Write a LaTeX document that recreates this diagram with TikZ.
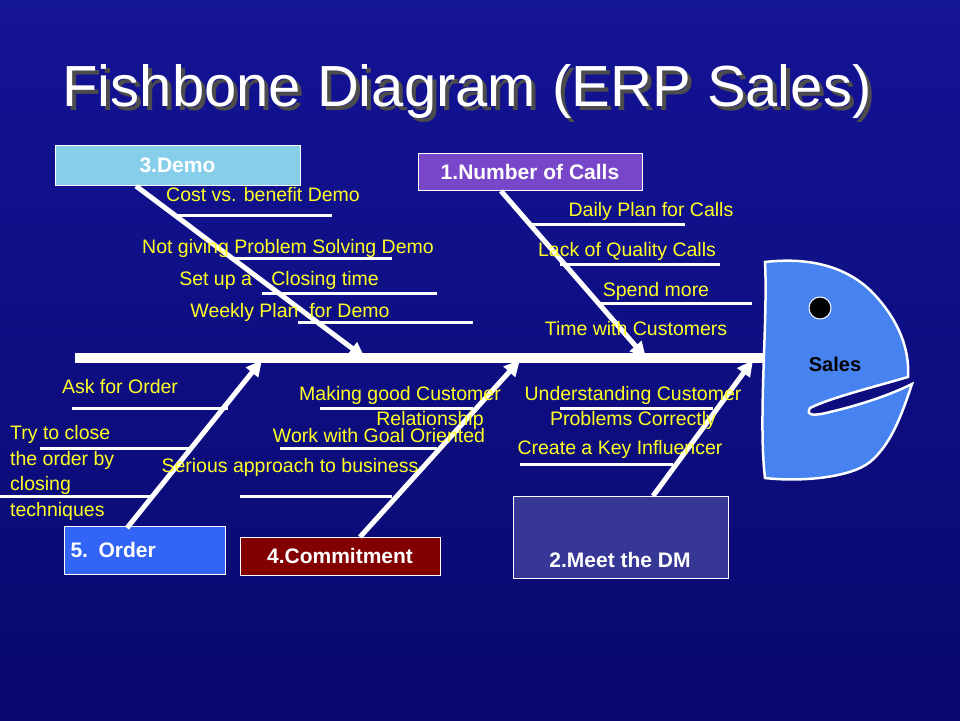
\documentclass[tikz,border=0pt]{standalone}
\usepackage{fontspec}
\setmainfont{Liberation Sans}
\usetikzlibrary{arrows.meta}
\definecolor{bgtop}{RGB}{20,20,150}
\definecolor{bgbot}{RGB}{8,8,110}
\definecolor{lab}{RGB}{255,255,40}
\definecolor{democ}{RGB}{135,206,235}
\definecolor{callc}{RGB}{120,70,200}
\definecolor{orderc}{RGB}{50,100,245}
\definecolor{commc}{RGB}{130,0,0}
\definecolor{dmc}{RGB}{55,55,150}
\definecolor{headc}{RGB}{70,130,240}
\begin{document}
\begin{tikzpicture}[x=1pt,y=-1pt,
  lbl/.style={text=lab,font=\fontsize{19.5}{21}\selectfont,inner sep=0pt},
  cat/.style={draw=white,line width=1pt,font=\bfseries\fontsize{21}{23}\selectfont,text=white,inner sep=0pt},
  bone/.style={white,line width=5pt,-{Triangle[length=16pt,width=15pt]}},
  twig/.style={white,line width=3pt}]
\useasboundingbox (0,0) rectangle (960,720);
\shade[top color=bgtop,bottom color=bgbot] (0,0) rectangle (960,720);
\node[text=black!70,font=\fontsize{58}{64}\selectfont] at (471,96) {Fishbone Diagram (ERP Sales)};
\node (title) [text=white,font=\fontsize{58}{64}\selectfont] at (467,92) {Fishbone Diagram (ERP Sales)};
% spine
\coordinate (sp0) at (75,358); \coordinate (sp1) at (765,358);
\draw[white,line width=10pt] (sp0) -- (sp1);
% head
\draw[white,line width=2.5pt,fill=headc] (765,262) .. controls (800,258) and (840,262) .. (870,290)
  .. controls (895,315) and (910,345) .. (908,377) .. controls (870,388) and (830,398) .. (810,408)
  .. controls (805,416) and (815,416) .. (830,412) .. controls (860,405) and (890,395) .. (912,384)
  .. controls (900,420) and (890,445) .. (870,462)
  .. controls (850,478) and (800,482) .. (765,478) .. controls (758,420) and (768,320) .. (765,262) -- cycle;
\fill[black] (820,308) circle (11);
\draw[white,line width=1pt] (820,308) circle (11);
\node (sales) [font=\bfseries\fontsize{20}{22}\selectfont,text=black] at (835,364) {Sales};
% category boxes
\node (demo) [cat,fill=democ,minimum width=245,minimum height=40] at (177.5,165) {3.Demo};
\node (calls) [cat,fill=callc,minimum width=224,minimum height=37] at (530,171.5) {1.Number of Calls};
\node (order) [cat,fill=orderc,minimum width=161,minimum height=48,text width=148] at (144.5,550) {5. Order};
\node (comm) [cat,fill=commc,minimum width=200,minimum height=38] at (340,556) {4.Commitment};
\node (dm) [cat,fill=dmc,minimum width=215,minimum height=82] at (620.5,537) {};
\node (dmt) at (620,560) [font=\bfseries\fontsize{21}{23}\selectfont,text=white] {2.Meet the DM};
% bones
\coordinate (d0) at (136,186); \coordinate (d1) at (365,358);
\coordinate (c0) at (501,191); \coordinate (c1) at (646,358);
\coordinate (o0) at (127,528); \coordinate (o1) at (262,360);
\coordinate (m0) at (360,537); \coordinate (m1) at (520,360);
\coordinate (k0) at (653,496); \coordinate (k1) at (753,360);
\draw[bone] (d0) -- (d1);
\draw[bone] (c0) -- (c1);
\draw[bone] (o0) -- (o1);
\draw[bone] (m0) -- (m1);
\draw[bone] (k0) -- (k1);
% twigs
\foreach \a/\b/\y in {178/332/215,235/392/258,262/437/293,298/473/322,
  530/685/224,560/720/264,597/752/303,
  72/228/408,40/190/448,0/150/496,
  320/473/408,280/437/448,240/392/496,
  560/713/408,520/673/464}
  \draw[twig] (\a,\y) -- (\b,\y);
% labels
\node[lbl] at (263,195) {Cost vs. benefit Demo};
\node[lbl] at (288,248) {Not giving Problem Solving Demo};
\node[lbl] at (279,280) {Set up a\quad Closing time};
\node[lbl] at (290,312) {Weekly Plan\ \ for Demo};
\node[lbl] at (651,211) {Daily Plan for Calls};
\node[lbl] at (627,251) {Lack of Quality Calls};
\node[lbl] at (656,291) {Spend more};
\node[lbl] at (636,329) {Time with Customers};
\node[lbl] at (120,387) {Ask for Order};
\node[lbl,anchor=west,align=left,font=\fontsize{19.5}{25.5}\selectfont] at (10,473) {Try to close\\the order by\\closing\\techniques};
\node[lbl] at (290,467) {Serious approach to business};
\node[lbl,align=center,font=\fontsize{19.5}{25}\selectfont] at (400,408) {Making good Customer\\\hspace*{60pt}Relationship};
\node[lbl] at (379,436) {Work with Goal Oriented};
\node[lbl,align=center,font=\fontsize{19.5}{25}\selectfont] at (633,408) {Understanding Customer\\Problems Correctly};
\node[lbl] at (620,449) {Create a Key Influencer};
\end{tikzpicture}
\end{document}
